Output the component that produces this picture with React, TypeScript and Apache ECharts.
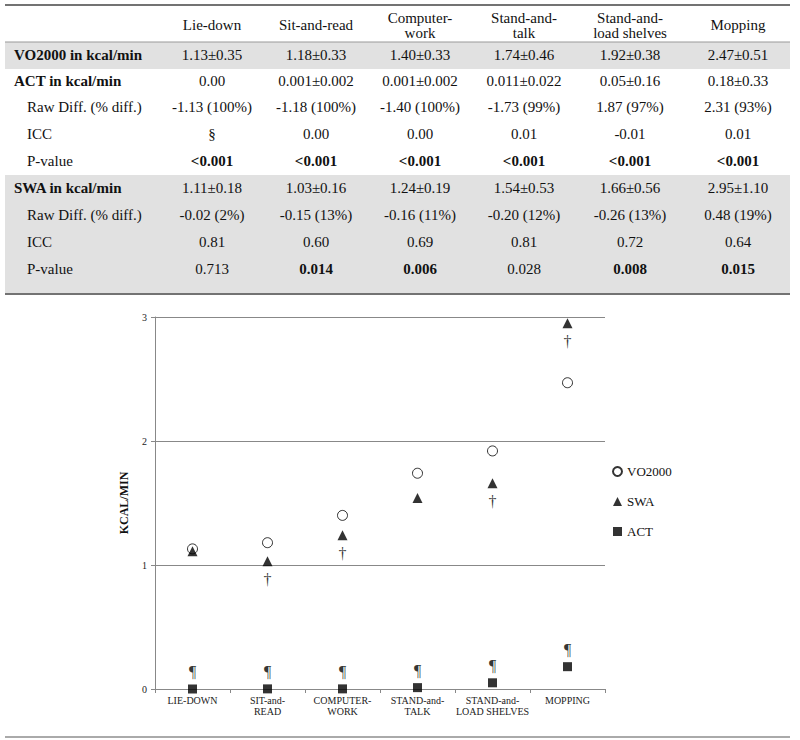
import React, { useEffect, useRef } from "react";
import * as echarts from "echarts";

// ---------- Table data ----------
const tableColumns = ["Lie-down", "Sit-and-read", "Computer-\nwork", "Stand-and-\ntalk", "Stand-and-\nload shelves", "Mopping"];
const vo2000Text = ["1.13±0.35", "1.18±0.33", "1.40±0.33", "1.74±0.46", "1.92±0.38", "2.47±0.51"];
const actText = ["0.00", "0.001±0.002", "0.001±0.002", "0.011±0.022", "0.05±0.16", "0.18±0.33"];
const actRawDiff = ["-1.13 (100%)", "-1.18 (100%)", "-1.40 (100%)", "-1.73 (99%)", "1.87 (97%)", "2.31 (93%)"];
const actICC = ["§", "0.00", "0.00", "0.01", "-0.01", "0.01"];
const actP = ["<0.001", "<0.001", "<0.001", "<0.001", "<0.001", "<0.001"];
const actPBold = [true, true, true, true, true, true];
const swaText = ["1.11±0.18", "1.03±0.16", "1.24±0.19", "1.54±0.53", "1.66±0.56", "2.95±1.10"];
const swaRawDiff = ["-0.02 (2%)", "-0.15 (13%)", "-0.16 (11%)", "-0.20 (12%)", "-0.26 (13%)", "0.48 (19%)"];
const swaICC = ["0.81", "0.60", "0.69", "0.81", "0.72", "0.64"];
const swaP = ["0.713", "0.014", "0.006", "0.028", "0.008", "0.015"];
const swaPBold = [false, true, true, false, true, true];

// ---------- Chart data ----------
const categories = ["LIE-DOWN", "SIT-and-\nREAD", "COMPUTER-\nWORK", "STAND-and-\nTALK", "STAND-and-\nLOAD SHELVES", "MOPPING"];
const vo2000Values = [1.13, 1.18, 1.40, 1.74, 1.92, 2.47];
const swaValues = [1.11, 1.03, 1.24, 1.54, 1.66, 2.95];
const actValues = [0.00, 0.001, 0.001, 0.011, 0.05, 0.18];
const swaDagger = swaPBold; // † marks significant SWA differences
const actPilcrow = actPBold; // ¶ marks significant ACT differences
const yTicks = [0, 1, 2, 3];

const FAM = "Liberation Serif";
const colX = [212, 316, 420, 524, 630, 738];

type Row = { label: string; bold: boolean; indent: boolean; y: number; cells: string[]; cellBold?: boolean[] };

const rows: Row[] = [
  { label: "VO2000 in kcal/min", bold: true, indent: false, y: 55, cells: vo2000Text },
  { label: "ACT in kcal/min", bold: true, indent: false, y: 81, cells: actText },
  { label: "Raw Diff. (% diff.)", bold: false, indent: true, y: 107, cells: actRawDiff },
  { label: "ICC", bold: false, indent: true, y: 134, cells: actICC },
  { label: "P-value", bold: false, indent: true, y: 161, cells: actP, cellBold: actPBold },
  { label: "SWA in kcal/min", bold: true, indent: false, y: 188, cells: swaText },
  { label: "Raw Diff. (% diff.)", bold: false, indent: true, y: 215, cells: swaRawDiff },
  { label: "ICC", bold: false, indent: true, y: 242, cells: swaICC },
  { label: "P-value", bold: false, indent: true, y: 269, cells: swaP, cellBold: swaPBold },
];

function text(x: number, y: number, s: string, bold: boolean, align: string) {
  return {
    type: "text",
    x,
    y,
    silent: true,
    style: {
      text: s,
      fill: "#111",
      fontFamily: FAM,
      fontSize: 15,
      fontWeight: bold ? "bold" : "normal",
      lineHeight: 15,
      align,
      verticalAlign: "middle",
      textAlign: align,
      textVerticalAlign: "middle",
    },
  };
}

function hline(y: number, x1: number, x2: number, color: string, w: number) {
  return { type: "line", silent: true, shape: { x1, y1: y, x2, y2: y }, style: { stroke: color, lineWidth: w } };
}

export default function App() {
  const ref = useRef<HTMLDivElement>(null);
  useEffect(() => {
    if (!ref.current) return;
    const chart = echarts.init(ref.current, undefined, { renderer: "svg" });

    const graphics: any[] = [];
    graphics.push({ type: "rect", silent: true, shape: { x: 5, y: 42, width: 785, height: 27 }, style: { fill: "#e1e1e1" } });
    graphics.push({ type: "rect", silent: true, shape: { x: 5, y: 175, width: 785, height: 118 }, style: { fill: "#e1e1e1" } });
    graphics.push(hline(5, 5, 790, "#444", 1.5));
    graphics.push(hline(42, 5, 790, "#999", 1));
    graphics.push(hline(294, 5, 790, "#444", 1.5));
    graphics.push(hline(737, 5, 790, "#aaa", 2));
    tableColumns.forEach((c, i) => graphics.push(text(colX[i], 25, c, false, "center")));
    rows.forEach((r) => {
      graphics.push(text(r.indent ? 27 : 14, r.y, r.label, r.bold, "left"));
      r.cells.forEach((c, i) => graphics.push(text(colX[i], r.y, c, r.cellBold ? r.cellBold[i] : false, "center")));
    });

    const option: any = {
      animation: false,
      backgroundColor: "#fff",
      textStyle: { fontFamily: FAM },
      grid: { left: 155, right: 195, top: 317, bottom: 51, containLabel: false },
      legend: {
        orient: "vertical",
        left: 612,
        top: 465,
        padding: 0,
        itemGap: 17,
        itemWidth: 9,
        itemHeight: 9,
        textStyle: { fontFamily: FAM, fontSize: 13, color: "#111" },
        data: ["VO2000", "SWA", "ACT"],
      },
      xAxis: {
        type: "category",
        data: categories,
        boundaryGap: true,
        axisLine: { lineStyle: { color: "#888" } },
        axisTick: { show: true, length: 4, lineStyle: { color: "#888" } },
        axisLabel: { interval: 0, fontFamily: FAM, fontSize: 10, lineHeight: 11, color: "#222", margin: 6 },
      },
      yAxis: {
        type: "value",
        min: yTicks[0],
        max: yTicks[yTicks.length - 1],
        interval: 1,
        name: "KCAL/MIN",
        nameLocation: "middle",
        nameRotate: 90,
        nameGap: 25,
        nameTextStyle: { fontFamily: FAM, fontSize: 12, fontWeight: "bold", color: "#111" },
        axisLine: { show: true, lineStyle: { color: "#888" } },
        axisTick: { show: true, length: 4, lineStyle: { color: "#888" } },
        axisLabel: { fontFamily: FAM, fontSize: 10, color: "#222", margin: 8 },
        splitLine: { show: true, lineStyle: { color: "#888", width: 1 } },
      },
      series: [
        {
          name: "VO2000",
          type: "scatter",
          symbol: "circle",
          symbolSize: 10,
          itemStyle: { color: "#fff", borderColor: "#000", borderWidth: 1 },
          data: vo2000Values,
          z: 2,
        },
        {
          name: "SWA",
          type: "scatter",
          symbol: "triangle",
          symbolSize: 10,
          itemStyle: { color: "#000" },
          data: swaValues.map((v, i) => ({
            value: v,
            label: {
              show: swaDagger[i],
              position: "bottom",
              distance: 5,
              formatter: "†",
              fontFamily: FAM,
              fontSize: 16,
              color: "#000",
            },
          })),
          z: 3,
        },
        {
          name: "ACT",
          type: "scatter",
          symbol: "rect",
          symbolSize: 9,
          itemStyle: { color: "#000" },
          data: actValues.map((v, i) => ({
            value: v,
            label: {
              show: actPilcrow[i],
              position: "top",
              distance: 5,
              formatter: "¶",
              fontFamily: FAM,
              fontSize: 16,
              color: "#000",
            },
          })),
          z: 3,
        },
      ],
      graphic: { elements: graphics },
    };
    chart.setOption(option);
    return () => chart.dispose();
  }, []);

  return <div ref={ref} style={{ position: "absolute", left: 0, top: 0, width: 800, height: 740 }} />;
}
